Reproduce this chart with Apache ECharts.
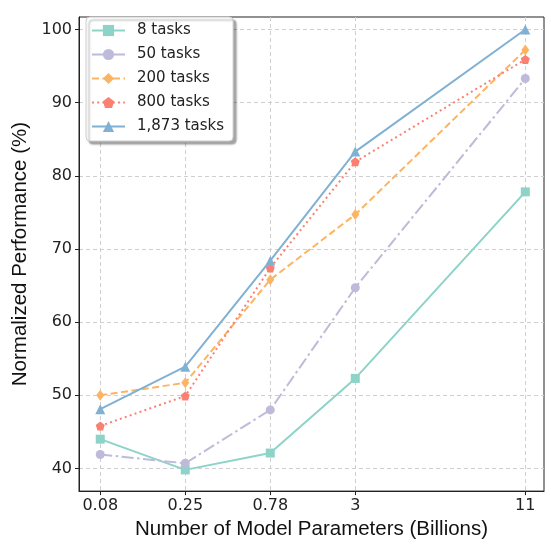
<!DOCTYPE html>
<html>
<head>
<meta charset="utf-8">
<script src="https://cdn.jsdelivr.net/npm/echarts@6/dist/echarts.min.js"></script>
<style>html,body{margin:0;padding:0;background:#fff}#c{width:551px;height:545px}</style>
</head>
<body>
<div id="c"></div>
<script>
const xLabels = ['0.08', '0.25', '0.78', '3', '11'];
const xPositions = [0, 1, 2, 3, 5];
const yTicks = [40, 50, 60, 70, 80, 90, 100];
const seriesNames = ['8 tasks', '50 tasks', '200 tasks', '800 tasks', '1,873 tasks'];
const tasks8 = [44.0, 39.8, 42.1, 52.3, 77.8];
const tasks50 = [41.9, 40.7, 48.0, 64.7, 93.3];
const tasks200 = [50.0, 51.7, 65.8, 74.7, 97.2];
const tasks800 = [45.8, 49.9, 67.4, 81.9, 95.9];
const tasks1873 = [48.1, 53.9, 68.4, 83.3, 100.0];

const values = [tasks8, tasks50, tasks200, tasks800, tasks1873];
const colors = ['#8dd3c7', '#bebada', '#fdb462', '#fb8072', '#80b1d3'];
const dashes = ['solid', [12, 3.5, 2.5, 3.5], [7, 3.5], [2, 3.2], 'solid'];
const symbols = ['rect', 'circle', 'path://M0,-10L3.6,0L0,10L-3.6,0Z',
  'path://M0,-10L9.5,-3.1L5.9,8.1L-5.9,8.1L-9.5,-3.1Z', 'triangle'];
const symbolSizes = [9, 9, [8, 11], 9, 10];

const chart = echarts.init(document.getElementById('c'));
const series = values.map((v, i) => ({
  name: seriesNames[i],
  type: 'line',
  data: v.map((y, j) => [xPositions[j], y]),
  symbol: symbols[i],
  symbolSize: symbolSizes[i],
  showSymbol: true,
  lineStyle: { color: colors[i], width: 2, type: dashes[i] },
  itemStyle: { color: colors[i] },
  z: 2 + i,
  animation: false
}));

chart.setOption({
  animation: false,
  grid: { left: 79, right: 7, top: 17, bottom: 53, show: true, borderColor: '#222', borderWidth: 1, backgroundColor: 'transparent' },
  legend: {
    orient: 'vertical', left: 86, top: 17,
    data: seriesNames,
    itemWidth: 33, itemHeight: 14, itemGap: 9,
    padding: [6, 9, 7, 5],
    backgroundColor: '#fff', borderColor: '#ccc', borderWidth: 1, borderRadius: 4,
    shadowColor: 'rgba(0,0,0,0.35)', shadowBlur: 2, shadowOffsetX: 3, shadowOffsetY: 3,
    textStyle: { fontFamily: 'DejaVu Sans', fontSize: 15, color: '#222', padding: [0, 0, 0, 7] }
  },
  xAxis: {
    type: 'value', min: -0.25, max: 5.22,
    name: 'Number of Model Parameters (Billions)', nameLocation: 'middle', nameGap: 26,
    nameTextStyle: { fontFamily: 'Liberation Sans', fontSize: 20.5, color: '#111' },
    axisLine: { show: true, onZero: false, lineStyle: { color: '#222' } },
    axisTick: { show: true, length: 4, customValues: xPositions, lineStyle: { color: '#222' } },
    axisLabel: { customValues: xPositions, formatter: v => xLabels[xPositions.indexOf(v)], fontFamily: 'DejaVu Sans', fontSize: 16, color: '#222', margin: 7 },
    splitLine: { show: true, lineStyle: { color: '#cfcfcf', type: [4, 3] } }
  },
  yAxis: {
    type: 'value', min: 36.9, max: 101.7,
    name: 'Normalized Performance (%)', nameLocation: 'middle', nameGap: 45,
    nameTextStyle: { fontFamily: 'Liberation Sans', fontSize: 20.5, color: '#111' },
    axisLine: { show: true, onZero: false, lineStyle: { color: '#222' } },
    axisTick: { show: true, length: 4, customValues: yTicks, lineStyle: { color: '#222' } },
    axisLabel: { customValues: yTicks, fontFamily: 'DejaVu Sans', fontSize: 16, color: '#222', margin: 7 },
    splitLine: { show: true, lineStyle: { color: '#cfcfcf', type: [4, 3] } }
  },
  series: series
});
</script>
</body>
</html>
